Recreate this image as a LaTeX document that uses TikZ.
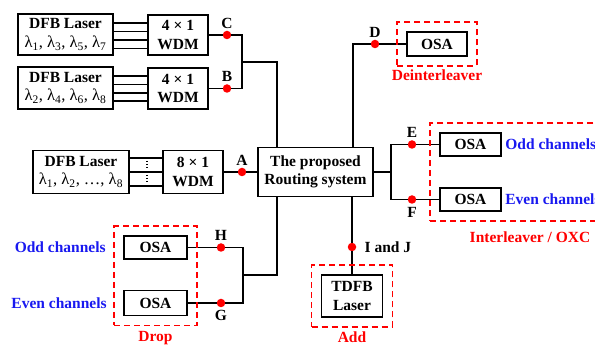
\documentclass[tikz,border=0pt]{standalone}
\usepackage{fontspec}
\setmainfont{Liberation Serif}
\usetikzlibrary{positioning, fit}
\definecolor{grpred}{RGB}{255, 0, 0}
\definecolor{chblue}{RGB}{25, 25, 240}
\newcommand{\lam}[1]{λ\textsubscript{#1}}
\newcommand{\figfont}{\fontsize{15.5}{18.5}\selectfont}
\newcommand{\lamfont}{\fontsize{16.5}{18.5}\selectfont\mdseries}

\begin{document}
\begin{tikzpicture}[
  x=1pt, y=-1pt,
  font=\figfont,
  box/.style={draw, line width=1.6pt, inner sep=0pt, align=center, font=\figfont\bfseries},
  dot/.style={circle, fill=grpred, inner sep=0pt, minimum size=8.5pt},
  tag/.style={font=\figfont\bfseries, inner sep=2pt},
  grp/.style={draw=grpred, line width=1.5pt, dash pattern=on 6pt off 4pt, inner sep=9pt},
  grplbl/.style={font=\figfont\bfseries, text=grpred},
  chlbl/.style={font=\figfont\bfseries, text=chblue},
  wire/.style={line width=1.4pt}
]
  \useasboundingbox (0,0) rectangle (595,347);
  \clip (0,0) rectangle (595,347);

  % Sources
  \node[box, minimum width=95pt, minimum height=41pt] (las1) at (65.5,34.5) {DFB Laser\\{\lamfont\lam{1}, \lam{3}, \lam{5}, \lam{7}}};
  \node[box, minimum width=60pt, minimum height=40pt] (wdm1) at (178,35) {4 × 1\\WDM};
  \node[box, minimum width=95pt, minimum height=42pt] (las2) at (65.5,88) {DFB Laser\\{\lamfont\lam{2}, \lam{4}, \lam{6}, \lam{8}}};
  \node[box, minimum width=60pt, minimum height=41pt] (wdm2) at (178,88.5) {4 × 1\\WDM};
  \node[box, minimum width=96pt, minimum height=43pt] (las3) at (81,172) {DFB Laser\\{\lamfont\lam{1}, \lam{2}, …, \lam{8}}};
  \node[box, minimum width=60pt, minimum height=43pt] (wdm3) at (193,172) {8 × 1\\WDM};
  \foreach \y in {23,31.5,40,48.5} {
    \draw[wire] (las1.east |- 0,\y) -- (wdm1.west |- 0,\y);
  }
  \foreach \y in {76,84.5,93,101} {
    \draw[wire] (las2.east |- 0,\y) -- (wdm2.west |- 0,\y);
  }
  \foreach \y in {158,172,186} {
    \draw[wire] (las3.east |- 0,\y) -- (wdm3.west |- 0,\y);
  }
  \draw[line width=1.4pt, dash pattern=on 1.4pt off 1.6pt] (147,161) -- (147,169) (147,175) -- (147,183);

  % Routing system
  \node[box, minimum width=115pt, minimum height=49pt] (route) at (315.5,172) {The proposed\\Routing system};

  % Outputs
  \node[box, minimum width=60pt, minimum height=24pt] (osaD) at (437,44) {OSA};
  \node[box, minimum width=61pt, minimum height=23pt] (osaE) at (470.5,144.5) {OSA};
  \node[box, minimum width=61pt, minimum height=23pt] (osaF) at (470.5,199.5) {OSA};
  \node[box, minimum width=63pt, minimum height=23pt] (osaH) at (155.5,247.5) {OSA};
  \node[box, minimum width=63pt, minimum height=25pt] (osaG) at (155.5,303) {OSA};
  \node[box, minimum width=61pt, minimum height=42pt] (tdfb) at (352,296) {TDFB\\Laser};

  \node[chlbl, right=0pt of osaE] (oddR) {Odd channels};
  \node[chlbl, right=0pt of osaF] (evenR) {Even channels};
  \node[chlbl, left=14pt of osaH] (oddL) {Odd channels};
  \node[chlbl, left=13pt of osaG] (evenL) {Even channels};

  % Points
  \node[dot, label={[tag]above:C}] (ptC) at (227,35) {};
  \node[dot, label={[tag]above:B}] (ptB) at (227,88.5) {};
  \node[dot, label={[tag]above:A}] (ptA) at (242,172) {};
  \node[dot, label={[tag]above:D}] (ptD) at (375,44) {};
  \node[dot, label={[tag]above:E}] (ptE) at (412,144.5) {};
  \node[dot, label={[tag, inner sep=3pt]below:F}] (ptF) at (412,199.5) {};
  \node[dot, label={[tag]above:H}] (ptH) at (221,247.5) {};
  \node[dot, label={[tag, inner sep=3pt]below:G}] (ptG) at (221,303) {};
  \node[dot, label={[tag, label distance=6pt]right:I and J}] (ptIJ) at (352,247) {};

  \coordinate (jCB) at (242,62);
  \coordinate (jEF) at (391,172);
  \coordinate (jHG) at (243,275);

  % Wires
  \draw[wire] (wdm1) -- (ptC) -| (jCB) |- (ptB) -- (wdm2);
  \draw[wire] (jCB) -| (route.north -| 277,0);
  \draw[wire] (wdm3) -- (ptA) -- (route);
  \draw[wire] (route.north -| 353,0) |- (ptD) -- (osaD);
  \draw[wire] (route) -- (jEF) |- (ptE) -- (osaE);
  \draw[wire] (jEF) |- (ptF) -- (osaF);
  \draw[wire] (route.south -| 277,0) |- (jHG) |- (ptH) -- (osaH);
  \draw[wire] (jHG) |- (ptG) -- (osaG);
  \draw[wire] (route.south -| ptIJ) -- (ptIJ) -- (tdfb);

  % Groups
  \node[grp, fit=(osaD)] (deint) {};
  \node[grp, fit=(osaE)(osaF)(oddR)(evenR)] (inter) {};
  \node[grp, fit=(osaH)(osaG)] (drop) {};
  \node[grp, fit=(tdfb)] (add) {};
  \node[grplbl, below=0pt of deint] (deintL) {Deinterleaver};
  \node[grplbl] (interL) at (530,237) {Interleaver / OXC};
  \node[grplbl, below=2pt of drop] (dropL) {Drop};
  \node[grplbl, below=1pt of add] (addL) {Add};
\end{tikzpicture}
\end{document}
